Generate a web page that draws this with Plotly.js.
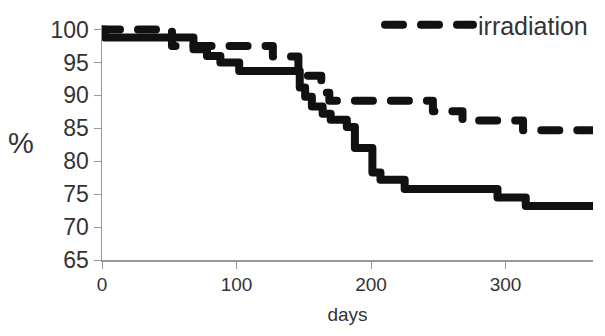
<!DOCTYPE html>
<html>
<head>
<meta charset="utf-8">
<script src="https://cdn.plot.ly/plotly-3.0.1.min.js"></script>
<style>
  html, body { margin: 0; padding: 0; background: #fff; }
  #chart { width: 605px; height: 336px; }
</style>
</head>
<body>
<div id="chart"></div>
<script>
// Solid curve (no legend entry)
const solidDays = [0, 2, 68, 78, 88, 102, 147, 151, 156, 164, 170, 182, 188, 201, 207, 225, 294, 315, 365];
const solidPct  = [100, 98.8, 97.0, 96.0, 95.0, 93.7, 91.2, 89.8, 88.3, 87.2, 86.3, 85.2, 82.0, 78.3, 77.2, 75.8, 74.5, 73.2, 73.2];

// Dashed curve: irradiation
const irrDays = [0, 52, 127, 146, 163, 169, 246, 268, 313, 365];
const irrPct  = [100, 97.5, 95.9, 93.0, 90.4, 89.2, 87.6, 86.2, 84.7, 84.7];

const seriesName = 'irradiation';
const xTicks = [0, 100, 200, 300];
const yTicks = [65, 70, 75, 80, 85, 90, 95, 100];

const FONT = '"Liberation Sans", Arial, Helvetica, sans-serif';
const TXT = '#333333';
const AX = '#999999';

const traces = [
  {
    x: solidDays, y: solidPct, type: 'scatter', mode: 'lines',
    line: { shape: 'hv', color: '#111111', width: 8 },
    showlegend: false, hoverinfo: 'skip'
  },
  {
    x: irrDays, y: irrPct, type: 'scatter', mode: 'lines', name: seriesName,
    line: { shape: 'hv', color: '#111111', width: 8, dash: '18px,18px' },
    hoverinfo: 'skip'
  }
];

const layout = {
  width: 605, height: 336,
  margin: { l: 102, r: 12, t: 25, b: 76, autoexpand: false },
  paper_bgcolor: '#ffffff', plot_bgcolor: '#ffffff',
  font: { family: FONT, color: TXT },
  showlegend: true,
  legend: {
    x: 1, xanchor: 'right', y: 1.0, yanchor: 'middle',
    bgcolor: 'rgba(0,0,0,0)', borderwidth: 0,
    font: { family: FONT, size: 25, color: TXT },
    itemwidth: 88
  },
  xaxis: {
    range: [0, 365], tickvals: xTicks, ticktext: xTicks.map(String),
    showgrid: false, zeroline: false, showline: true, linecolor: AX, linewidth: 1.5,
    ticks: 'outside', ticklen: 7, tickcolor: AX, tickwidth: 1,
    tickfont: { family: FONT, size: 19, color: TXT },
    title: { text: 'days', font: { family: FONT, size: 19, color: TXT }, standoff: 13 },
    automargin: false
  },
  yaxis: {
    range: [65, 100.7], tickvals: yTicks, ticktext: yTicks.map(String),
    showgrid: false, zeroline: false, showline: true, linecolor: AX, linewidth: 1.5,
    ticks: 'outside', ticklen: 7, tickcolor: AX, tickwidth: 1,
    tickfont: { family: FONT, size: 23, color: TXT },
    automargin: false
  },
  annotations: [
    {
      text: '%', xref: 'paper', yref: 'paper', x: -0.165, y: 0.5,
      xanchor: 'center', yanchor: 'middle', showarrow: false,
      font: { family: FONT, size: 29, color: TXT }
    }
  ]
};

function roundCaps() {
  document.querySelectorAll('#chart path.js-line').forEach(function (p) {
    p.setAttribute('stroke-linecap', 'round');
    p.setAttribute('stroke-linejoin', 'round');
    p.style.setProperty('stroke-linecap', 'round', 'important');
    p.style.setProperty('stroke-linejoin', 'round', 'important');
  });
}

Plotly.newPlot('chart', traces, layout, { staticPlot: true, displayModeBar: false }).then(function (gd) {
  roundCaps();
  gd.on('plotly_afterplot', roundCaps);
});
</script>
</body>
</html>
